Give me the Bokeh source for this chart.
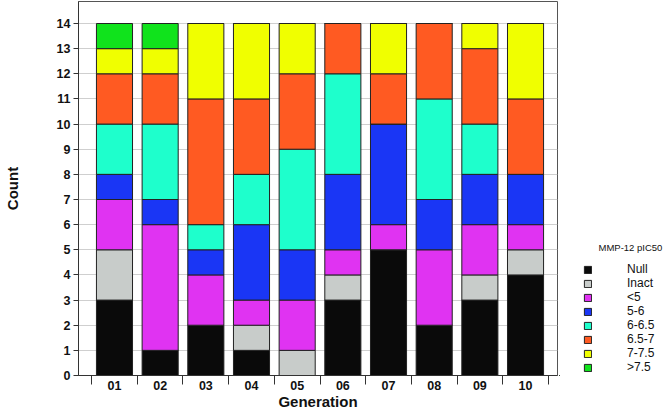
from bokeh.plotting import figure
from bokeh.layouts import row
from bokeh.models import ColumnDataSource, Range1d, FixedTicker, Legend, LegendItem, Label
from bokeh.embed import file_html
from bokeh.resources import INLINE

generations = ["01", "02", "03", "04", "05", "06", "07", "08", "09", "10"]
categories = ["Null", "Inact", "<5", "5-6", "6-6.5", "6.5-7", "7-7.5", ">7.5"]
null = [3, 1, 2, 1, 0, 3, 5, 2, 3, 4]
inact = [2, 0, 0, 1, 1, 1, 0, 0, 1, 1]
lt5 = [2, 5, 2, 1, 2, 1, 1, 3, 2, 1]
r5_6 = [1, 1, 1, 3, 2, 3, 4, 2, 2, 2]
r6_65 = [2, 3, 1, 2, 4, 4, 0, 4, 2, 0]
r65_7 = [2, 2, 5, 3, 3, 2, 2, 3, 3, 3]
r7_75 = [1, 1, 3, 3, 2, 0, 2, 0, 1, 3]
gt75 = [1, 1, 0, 0, 0, 0, 0, 0, 0, 0]
colors = ["#0a0a0a", "#c8ccca", "#e033f2", "#1a36f5", "#1effcc", "#ff5a22", "#f0ff00", "#10e31c"]
legend_title = "MMP-12 pIC50"

FONT = "Liberation Sans"
H = 412
xpos = list(range(1, len(generations) + 1))
source = ColumnDataSource(dict(x=xpos, **{c: v for c, v in zip(
    categories, [null, inact, lt5, r5_6, r6_65, r65_7, r7_75, gt75])}))

p = figure(width=559, height=H, output_backend="svg", toolbar_location=None,
           x_range=Range1d(0.212, 10.70), y_range=Range1d(0, 14.875),
           min_border_left=78, min_border_right=2, min_border_top=1, min_border_bottom=37)

renderers = p.vbar_stack(categories, x="x", width=0.79, color=colors, source=source,
                         line_color="#222222", line_width=1)

# grid
p.xgrid.visible = False
p.ygrid.ticker = FixedTicker(ticks=list(range(15)))
p.ygrid.grid_line_color = "#cfcfcf"
p.outline_line_color = "#555555"
p.outline_line_width = 1

# y axis
p.yaxis.ticker = FixedTicker(ticks=list(range(15)))
p.yaxis.axis_label = "Count"
p.yaxis.axis_label_text_font = FONT
p.yaxis.axis_label_text_font_style = "bold"
p.yaxis.axis_label_text_font_size = "15px"
p.yaxis.axis_label_text_color = "#111111"
p.yaxis.axis_label_standoff = 33
p.yaxis.major_label_text_font = FONT
p.yaxis.major_label_text_font_style = "bold"
p.yaxis.major_label_text_font_size = "12.5px"
p.yaxis.major_label_text_color = "#111111"
p.yaxis.major_label_standoff = 3
p.yaxis.major_tick_out = 5
p.yaxis.major_tick_in = 0
p.yaxis.major_tick_line_color = "#333333"
p.yaxis.minor_tick_line_color = None
p.yaxis.axis_line_color = "#333333"

# x axis
p.xaxis.ticker = FixedTicker(ticks=xpos, minor_ticks=[x - 0.5 for x in xpos] + [xpos[-1] + 0.5])
p.xaxis.major_label_overrides = {x: g for x, g in zip(xpos, generations)}
p.xaxis.axis_label = "Generation"
p.xaxis.axis_label_text_font = FONT
p.xaxis.axis_label_text_font_style = "bold"
p.xaxis.axis_label_text_font_size = "15px"
p.xaxis.axis_label_text_color = "#111111"
p.xaxis.axis_label_standoff = 0
p.xaxis.major_label_text_font = FONT
p.xaxis.major_label_text_font_style = "bold"
p.xaxis.major_label_text_font_size = "12.5px"
p.xaxis.major_label_text_color = "#111111"
p.xaxis.major_label_standoff = -4
p.xaxis.major_tick_out = 0
p.xaxis.major_tick_in = 0
p.xaxis.major_tick_line_color = None
p.xaxis.minor_tick_in = 0
p.xaxis.minor_tick_out = 9
p.xaxis.minor_tick_line_color = "#333333"
p.xaxis.axis_line_color = "#333333"

# legend panel (separate figure; its frame is aligned with the main frame,
# so y data units = page pixels measured upward from the bottom of the page)
LW = 105
lg = figure(width=LW, height=H, output_backend="svg", toolbar_location=None,
            x_range=Range1d(0, LW), y_range=Range1d(H - 375, H - 1),
            x_axis_type=None, y_axis_type=None,
            min_border_left=0, min_border_right=0, min_border_top=1, min_border_bottom=37)
lg.grid.visible = False
lg.outline_line_color = None
swatches = [lg.vbar(x=[-50], top=[1], width=1, fill_color=c, line_color="#222222") for c in colors]
items = [LegendItem(label=c, renderers=[r]) for c, r in zip(categories, swatches)]
legend = Legend(items=items, location=(24, 1), padding=0, margin=0,
                glyph_width=9, glyph_height=9, label_height=12, spacing=0,
                label_standoff=35, label_text_font=FONT, label_text_font_size="12px",
                label_text_color="#111111", border_line_color=None,
                background_fill_alpha=0)
lg.add_layout(legend)
lg.add_layout(Label(x=39, y=H - 247, text=legend_title, text_font=FONT, text_font_size="9.5px",
                    text_baseline="middle", text_color="#111111"))

layout = row(p, lg)
open("out.html", "w").write(file_html(layout, INLINE))
